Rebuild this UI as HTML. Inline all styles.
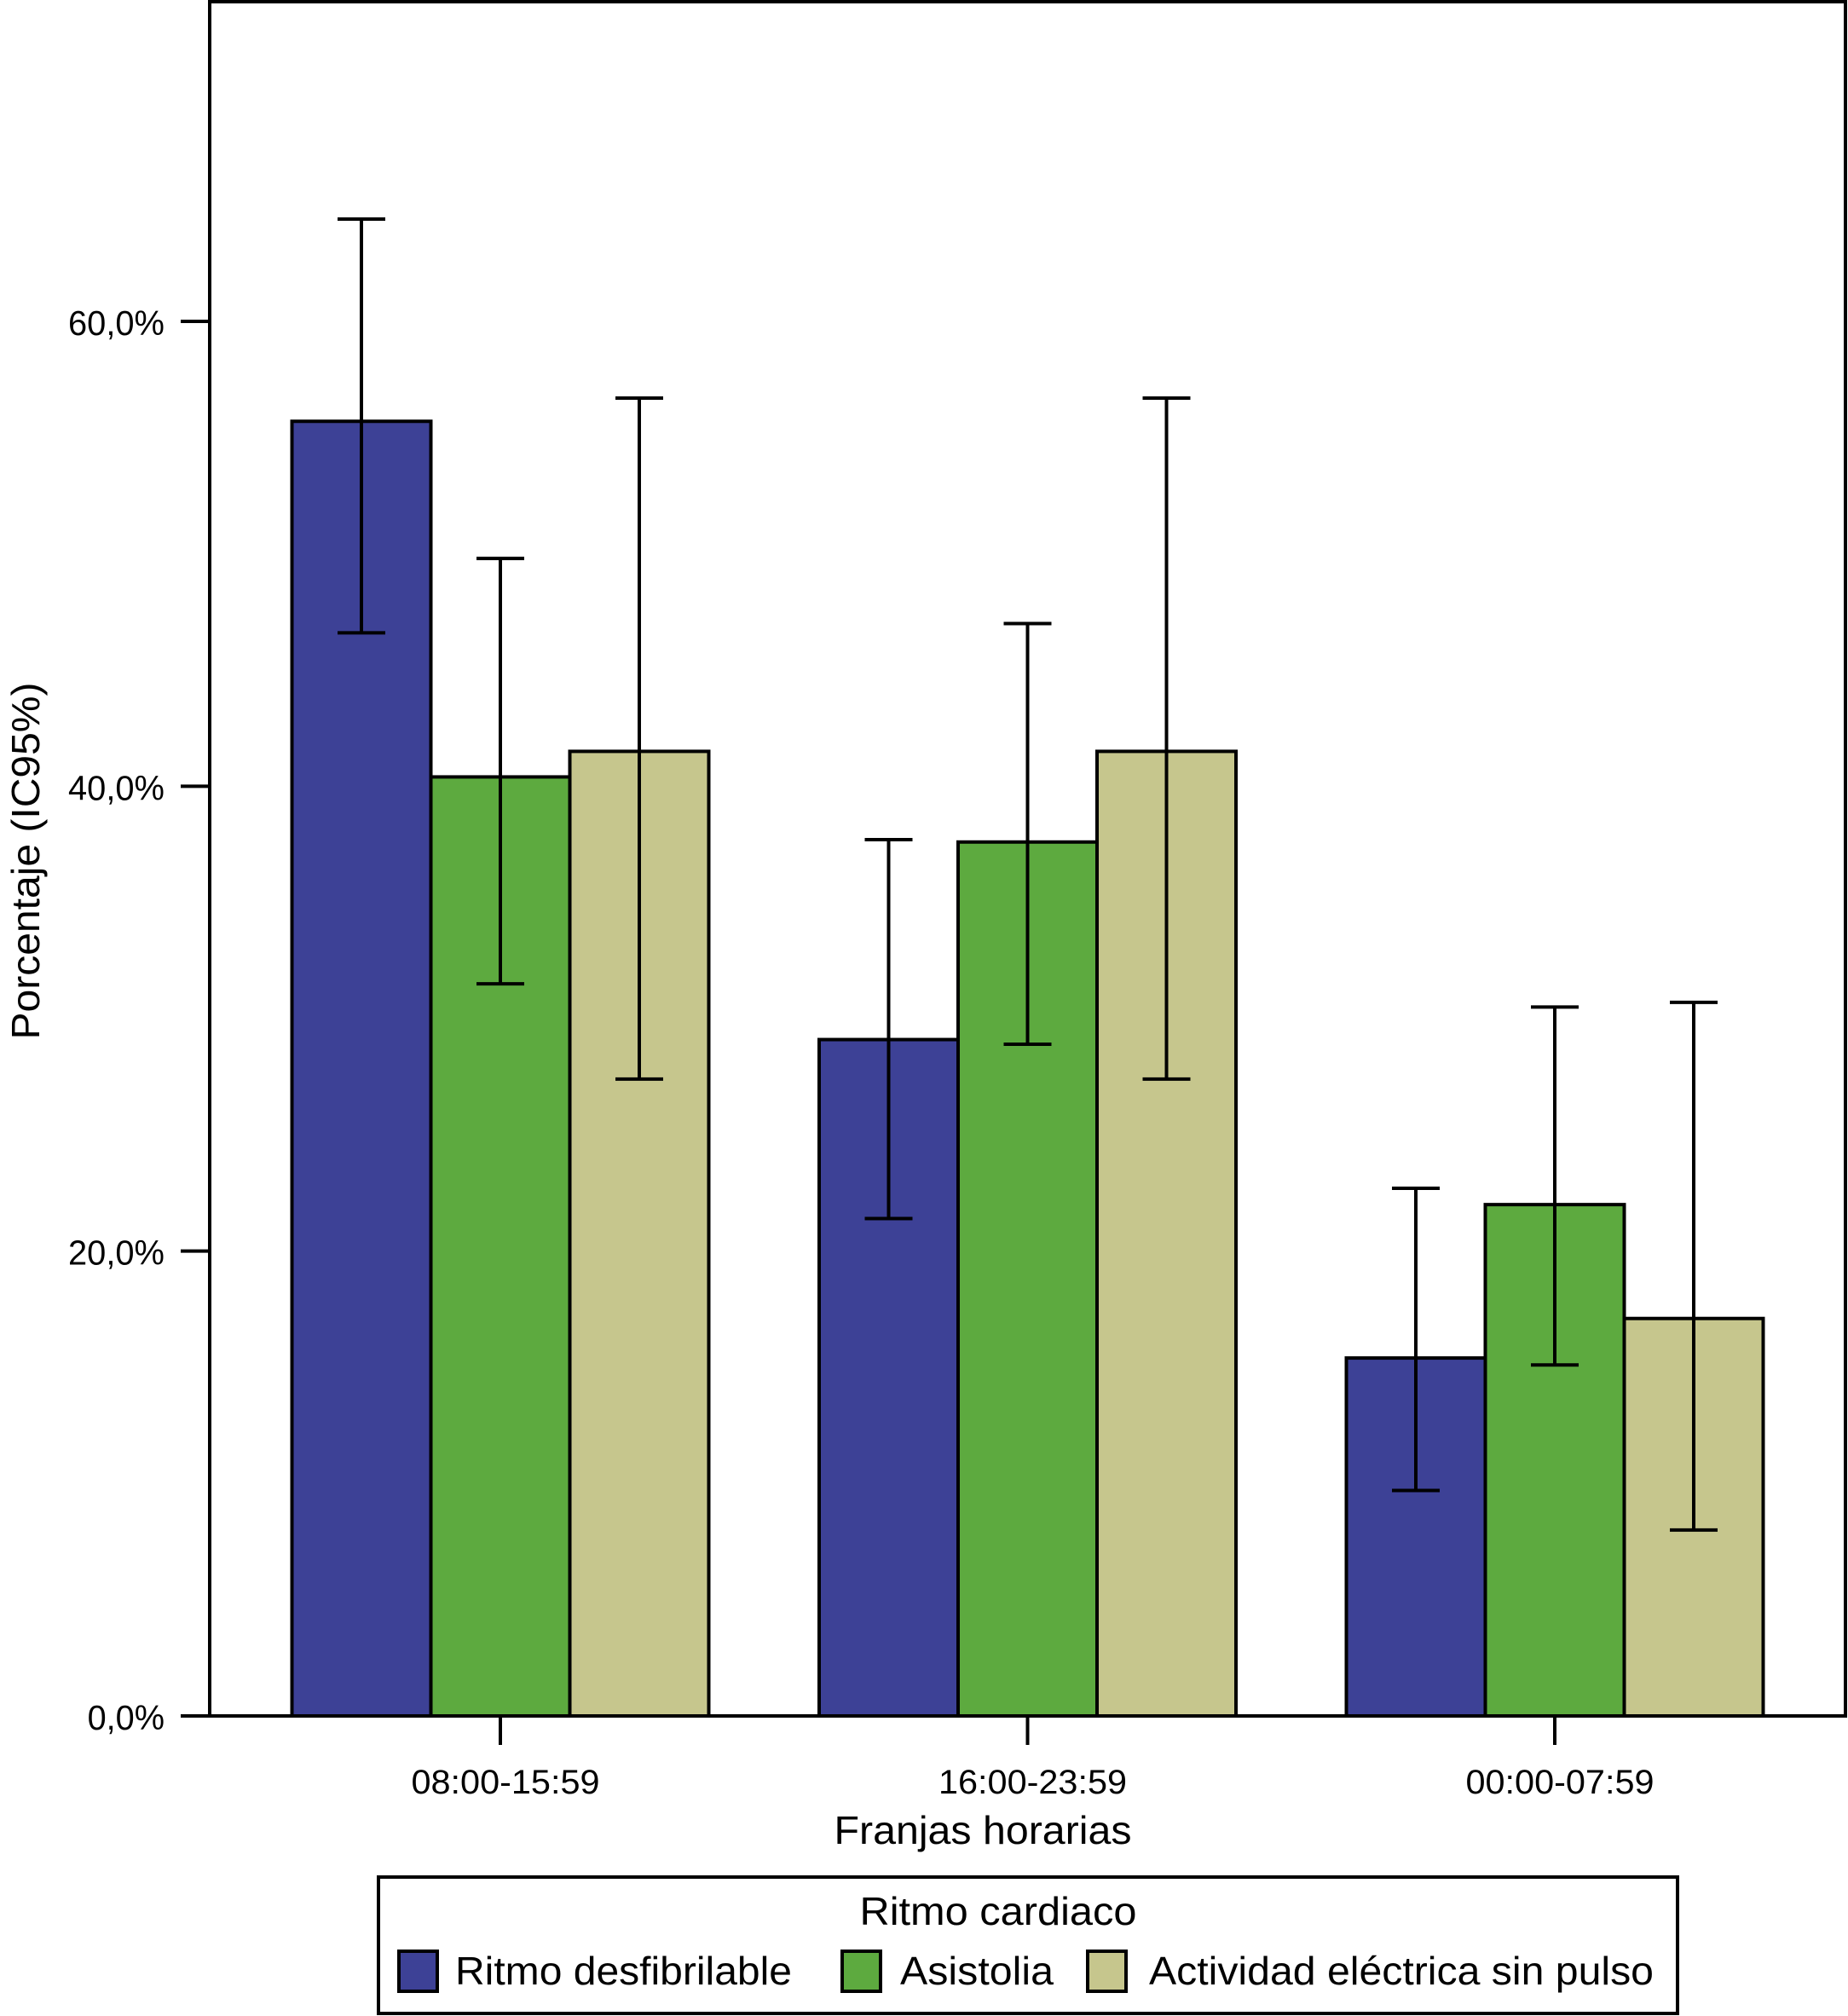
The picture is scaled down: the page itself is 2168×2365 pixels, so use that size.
<!DOCTYPE html>
<html><head><meta charset="utf-8"><style>
html,body{margin:0;padding:0;background:#fff}
svg{display:block;font-family:"Liberation Sans",sans-serif}
</style></head><body>
<svg id="chart" width="2168" height="2365" viewBox="0 0 2168 2365" xmlns="http://www.w3.org/2000/svg">
<rect x="246" y="2" width="1919" height="2011" fill="#fff" stroke="#000" stroke-width="4"/>
<g id="bars"></g>
<g id="yaxis"></g>
<g id="xaxis"></g>
<text x="1153" y="2163" font-size="46" text-anchor="middle" textLength="349" lengthAdjust="spacingAndGlyphs">Franjas horarias</text>
<text transform="translate(46,1010) rotate(-90)" font-size="46" text-anchor="middle" textLength="419" lengthAdjust="spacingAndGlyphs">Porcentaje (IC95%)</text>
<g>
<rect x="444" y="2202" width="1524" height="160" fill="#fff" stroke="#000" stroke-width="4"/>
<text x="1171" y="2258" font-size="46" text-anchor="middle" textLength="325" lengthAdjust="spacingAndGlyphs">Ritmo cardiaco</text>
<rect x="468" y="2289" width="45" height="47" fill="#3d4196" stroke="#000" stroke-width="4"/>
<text x="534" y="2328" font-size="46" textLength="395" lengthAdjust="spacingAndGlyphs">Ritmo desfibrilable</text>
<rect x="988" y="2289" width="45" height="47" fill="#5daa3f" stroke="#000" stroke-width="4"/>
<text x="1056" y="2328" font-size="46" textLength="180" lengthAdjust="spacingAndGlyphs">Asistolia</text>
<rect x="1276" y="2289" width="45" height="47" fill="#c6c68d" stroke="#000" stroke-width="4"/>
<text x="1348" y="2328" font-size="46" textLength="592" lengthAdjust="spacingAndGlyphs">Actividad eléctrica sin pulso</text>
</g>
</svg>
<script>
const categories = ["08:00-15:59","16:00-23:59","00:00-07:59"];
const seriesNames = ["Ritmo desfibrilable","Asistolia","Actividad eléctrica sin pulso"];
const desfibrilable = [55.7, 29.1, 15.4];
const desfibrilableLow = [46.6, 21.4, 9.7];
const desfibrilableHigh = [64.4, 37.7, 22.7];
const asistolia = [40.4, 37.6, 22.0];
const asistoliaLow = [31.5, 28.9, 15.1];
const asistoliaHigh = [49.8, 47.0, 30.5];
const aesp = [41.5, 41.5, 17.1];
const aespLow = [27.4, 27.4, 8.0];
const aespHigh = [56.7, 56.7, 30.7];
const yTicks = [0, 20, 40, 60];
const yTickLabels = ["0,0%","20,0%","40,0%","60,0%"];

const NS = "http://www.w3.org/2000/svg";
const colors = ["#3d4196","#5daa3f","#c6c68d"];
const keys = ["desfibrilable","asistolia","aesp"];
const vals = [desfibrilable, asistolia, aesp];
const lows = [desfibrilableLow, asistoliaLow, aespLow];
const highs = [desfibrilableHigh, asistoliaHigh, aespHigh];
const y0 = 2013, pxPerPct = (2013 - 377) / 60;
const yScale = v => y0 - v * pxPerPct;
const xCenter = i => 587 + i * 618.5;
const barW = 163;
function mk(tag, attrs, parent){const e=document.createElementNS(NS,tag);for(const k in attrs)e.setAttribute(k,attrs[k]);parent.appendChild(e);return e;}
const gb = document.getElementById('bars');
categories.forEach((c,i)=>{
  vals.forEach((arr,s)=>{
    const x = xCenter(i) + (s-1.5)*barW;
    const r = mk('rect',{x:x,y:yScale(arr[i]),width:barW,height:y0-yScale(arr[i]),fill:colors[s],stroke:'#000','stroke-width':4},gb);
    
    
  });
});
categories.forEach((c,i)=>{
  vals.forEach((arr,s)=>{
    const cx = xCenter(i) + (s-1)*barW;
    const g = mk('g',{stroke:'#000','stroke-width':4},gb);
    
    
    const yl=yScale(lows[s][i]), yh=yScale(highs[s][i]);
    mk('line',{x1:cx,x2:cx,y1:yl,y2:yh},g);
    mk('line',{x1:cx-28,x2:cx+28,y1:yl,y2:yl},g);
    mk('line',{x1:cx-28,x2:cx+28,y1:yh,y2:yh},g);
  });
});
const gy = document.getElementById('yaxis');
yTicks.forEach((t,i)=>{
  const y=yScale(t);
  const l=mk('line',{x1:212,x2:246,y1:y,y2:y,stroke:'#000','stroke-width':4},gy);
  
  
  const tx=mk('text',{x:193,y:y+16,'font-size':41,'text-anchor':'end',textLength:(yTickLabels[i].length*22.6),lengthAdjust:'spacingAndGlyphs'},gy);
  
  
  tx.textContent=yTickLabels[i];
});
const gx = document.getElementById('xaxis');
categories.forEach((c,i)=>{
  const x=xCenter(i);
  const l=mk('line',{x1:x,x2:x,y1:2013,y2:2047,stroke:'#000','stroke-width':4},gx);
  
  
  const tx=mk('text',{x:x+6,y:2104,'font-size':40,'text-anchor':'middle',textLength:221,lengthAdjust:'spacingAndGlyphs'},gx);
  
  
  tx.textContent=c;
});
</script>
</body></html>
